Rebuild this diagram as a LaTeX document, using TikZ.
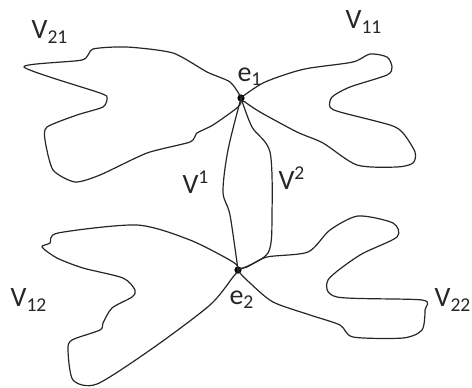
\documentclass[tikz,border=0pt]{standalone}
\usepackage{fontspec}
\setmainfont{Carlito}
\usetikzlibrary{positioning}
\tikzset{
  % The 'lobe' style is for the hand drawn outline of each region
  lobe/.style={draw=black!85, line width=0.6pt, line join=round},
  % The 'vertex' style is the small black dot where the regions meet
  vertex/.style={circle, fill=black, inner sep=0pt, minimum size=3.6pt},
  % The 'side' style is for the two curves joining the vertices
  side/.style={draw=black!85, line width=0.6pt},
  % The 'region-label' style is for the names of the regions and vertices
  region-label/.style={font=\fontsize{14}{16}\selectfont, anchor=center, text=black!85, inner sep=0pt}
}
\begin{document}
\begin{tikzpicture}[x=0.5pt, y=-0.5pt]
  \useasboundingbox (0,0) rectangle (472,387);

  % The two vertices
  \node[vertex] at (241,98) (e1) {};
  \node[vertex] at (238,270) (e2) {};

  % Upper left region
  \draw[lobe] plot[smooth cycle, tension=0.4] coordinates {
    (e1) (230,82) (207,72) (173,53) (127,47) (93,49) (82,60) (24,67)
    (100,93) (107,98) (103,107) (77,115) (47,127) (45,140) (53,170)
    (75,182) (100,175) (147,153) (190,142) (197,133) (213,125) (238,107)};

  % Upper right region
  \draw[lobe] plot[smooth cycle, tension=0.45] coordinates {
    (e1) (263,83) (290,73) (310,68) (353,62) (370,54) (387,57) (392,67)
    (387,75) (350,87) (332,97) (330,107) (340,112) (390,125) (403,133)
    (415,152) (413,163) (397,167) (357,165) (323,143) (297,132) (260,112)
    (245,102)};

  % Lower left region
  \draw[lobe] plot[smooth cycle, tension=0.45] coordinates {
    (e2) (233,262) (190,240) (137,225) (58,233) (50,243) (42,247) (57,258)
    (83,268) (123,278) (135,290) (132,297) (112,308) (103,323) (100,330)
    (72,340) (68,350) (73,380) (97,384) (153,348) (210,305) (233,277)};

  % Lower right region
  \draw[lobe] plot[smooth cycle, tension=0.45] coordinates {
    (e2) (247,267) (267,257) (308,252) (330,230) (358,216) (393,223)
    (397,237) (360,255) (328,280) (337,297) (422,300) (425,310) (422,330)
    (403,338) (353,337) (340,325) (310,315) (273,302) (250,283)};

  % The two sides between the vertices
  \draw[side] plot[smooth, tension=0.5] coordinates {
    (e1) (228,150) (223,192) (230,215) (e2)};
  \draw[side] plot[smooth, tension=0.5] coordinates {
    (e1) (252,127) (270,152) (272,213) (268,253) (e2)};

  % Labels
  \node[region-label] at (50,32) (v21) {V\textsubscript{21}};
  \node[region-label] at (364,22) (v11) {V\textsubscript{11}};
  \node[region-label] at (29,300) (v12) {V\textsubscript{12}};
  \node[region-label] at (453,300) (v22) {V\textsubscript{22}};
  \node[region-label] at (250,77) (l1) {e\textsubscript{1}};
  \node[region-label] at (242,300) (l2) {e\textsubscript{2}};
  \node[region-label] at (196,182) (s1) {V\textsuperscript{1}};
  \node[region-label] at (292,178) (s2) {V\textsuperscript{2}};
\end{tikzpicture}
\end{document}
